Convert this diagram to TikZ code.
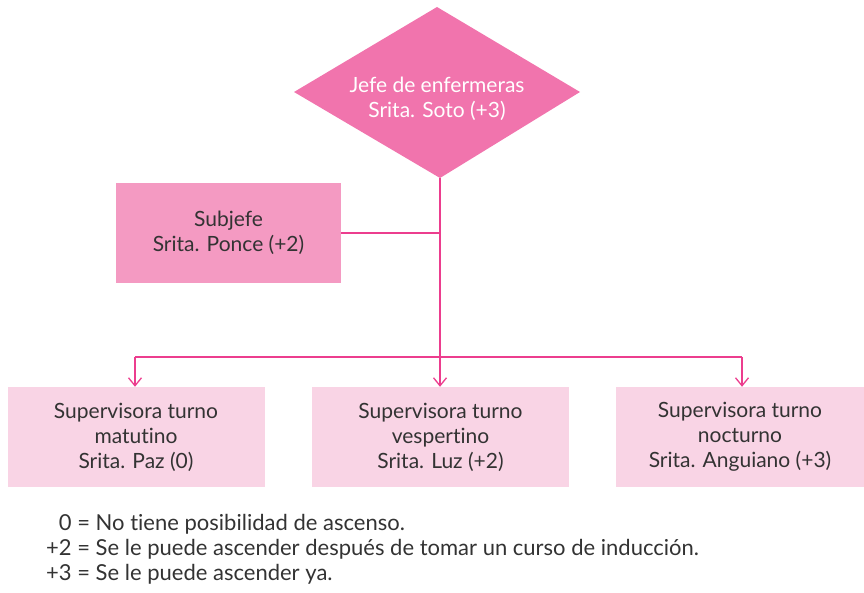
\documentclass[tikz,border=0pt]{standalone}
\usepackage{fontspec}
\setmainfont{Lato}[Ligatures={NoCommon,TeX}]
\usetikzlibrary{arrows.meta}
\definecolor{diafill}{HTML}{F174AD}
\definecolor{subfill}{HTML}{F49AC2}
\definecolor{boxfill}{HTML}{F9D4E5}
\definecolor{linec}{HTML}{EC3D8E}
\definecolor{txt}{HTML}{333333}
\tikzset{
  lbl/.style={font=\fontsize{21}{25}\selectfont, align=center, text=txt},
  subbox/.style={rectangle, fill=subfill, minimum width=225pt, minimum height=100pt, inner sep=0pt, lbl},
  supbox/.style={rectangle, fill=boxfill, minimum width=257pt, minimum height=100pt, inner sep=0pt, lbl},
  conn/.style={draw=linec, line width=1.3pt},
  arr/.style={conn, -{Straight Barb[length=8pt,width=13pt,line width=1.3pt]}}
}
\begin{document}
\begin{tikzpicture}[x=1pt,y=1pt]
\useasboundingbox (0,0) rectangle (864,592);
% y_tikz = 592 - y_img
\fill[diafill] (294,500) -- (437,585) -- (580,500) -- (440,414) -- cycle;
\node[lbl, text=white] (boss) at (437,493.5) {Jefe de enfermeras\\Srita. Soto (+3)};
\coordinate (bb) at (440,414);
\node[subbox] (sub) at (228.5,359) {Subjefe\\Srita. Ponce (+2)};
\node[supbox] (s1) at (136,155) {Supervisora turno\\matutino\\Srita. Paz (0)};
\node[supbox] (s2) at (440.5,155) {Supervisora turno\\vespertino\\Srita. Luz (+2)};
\node[supbox, minimum width=248pt] (s3) at (740,155) {Supervisora turno\\nocturno\\Srita. Anguiano (+3)};
\coordinate (j) at (440,235);
\coordinate (jl) at (135,235);
\coordinate (jr) at (742,235);
\coordinate (m) at (440,359);
\draw[conn] (bb) -- (j);
\draw[conn] (sub.east) -- (m);
\draw[conn] (jl) -- (jr);
\draw[arr] (jl) -- (jl |- s1.north);
\draw[arr] (j) -- (s2.north -| j);
\draw[arr] (jr) -- (jr |- s3.north);
\node[anchor=north west, inner sep=0pt, font=\fontsize{22}{25}\selectfont, text=txt] (legend) at (46,79)
{\begin{tabular}{@{}r@{ }l@{}}0 =& No tiene posibilidad de ascenso.\\+2 =& Se le puede ascender después de tomar un curso de inducción.\\+3 =& Se le puede ascender ya.\end{tabular}};
\end{tikzpicture}
\end{document}
